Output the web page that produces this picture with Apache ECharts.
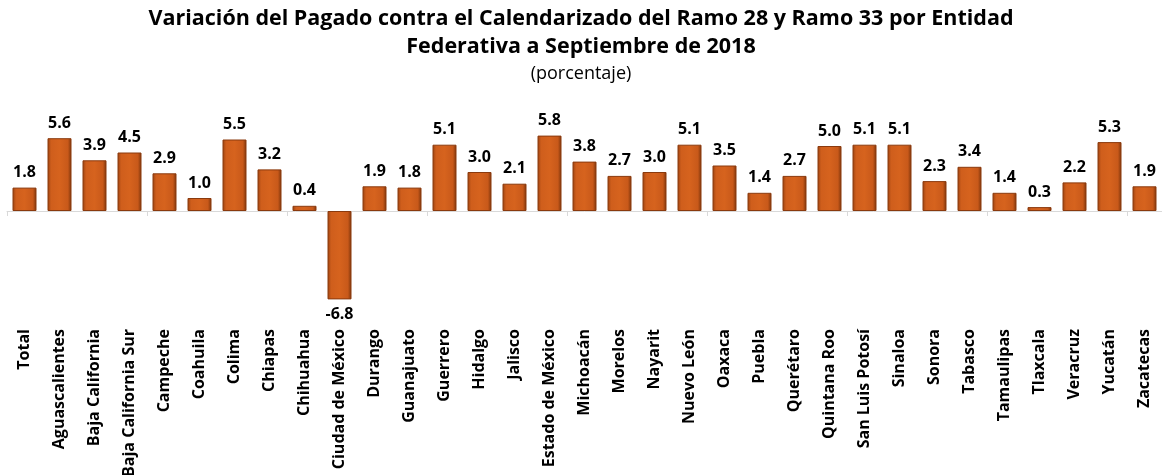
<!DOCTYPE html>
<html>
<head>
<meta charset="utf-8">
<script src="https://cdn.jsdelivr.net/npm/echarts@6/dist/echarts.min.js"></script>
<style>
  html, body { margin: 0; padding: 0; background: #fff; }
  #chart { width: 1162px; height: 475px; }
</style>
</head>
<body>
<div id="chart"></div>
<script>
const categories = [
  "Total", "Aguascalientes", "Baja California", "Baja California Sur", "Campeche",
  "Coahuila", "Colima", "Chiapas", "Chihuahua", "Ciudad de México", "Durango",
  "Guanajuato", "Guerrero", "Hidalgo", "Jalisco", "Estado de México", "Michoacán",
  "Morelos", "Nayarit", "Nuevo León", "Oaxaca", "Puebla", "Querétaro",
  "Quintana Roo", "San Luis Potosí", "Sinaloa", "Sonora", "Tabasco", "Tamaulipas",
  "Tlaxcala", "Veracruz", "Yucatán", "Zacatecas"
];
const values = [
  1.8, 5.6, 3.9, 4.5, 2.9, 1.0, 5.5, 3.2, 0.4, -6.8, 1.9,
  1.8, 5.1, 3.0, 2.1, 5.8, 3.8, 2.7, 3.0, 5.1, 3.5, 1.4, 2.7,
  5.0, 5.1, 5.1, 2.3, 3.4, 1.4, 0.3, 2.2, 5.3, 1.9
];

const fontFamily = "'Open Sans', sans-serif";

// barra tipo cilindro: bordes oscuros, centro naranja
const barColor = new echarts.graphic.LinearGradient(0, 0, 1, 0, [
  { offset: 0, color: "#9a4210" },
  { offset: 0.15, color: "#cf5e1c" },
  { offset: 0.5, color: "#d6631e" },
  { offset: 0.85, color: "#c8591a" },
  { offset: 1, color: "#7a330a" }
]);

const seriesData = values.map(v => ({
  value: v,
  label: { position: v < 0 ? "bottom" : "top" }
}));

const option = {
  backgroundColor: "#fff",
  title: [
    {
      text: "Variación del Pagado contra el Calendarizado del Ramo 28 y Ramo 33 por Entidad\nFederativa a Septiembre de 2018",
      left: "center",
      top: 0,
      textStyle: { fontFamily, fontSize: 21.5, fontWeight: "bold", color: "#000", lineHeight: 28 }
    },
    {
      text: "(porcentaje)",
      left: "center",
      top: 60,
      textStyle: { fontFamily, fontSize: 18, fontWeight: "normal", color: "#000" }
    }
  ],
  grid: { left: 7, right: 0, top: 120, bottom: 160, outerBoundsMode: "none", containLabel: false },
  xAxis: [
    {
      type: "category",
      data: categories,
      axisLine: { onZero: true, lineStyle: { color: "#d9d9d9", width: 1 } },
      axisTick: { show: true, length: 5, lineStyle: { color: "#d9d9d9" } },
      axisLabel: { show: false }
    },
    {
      type: "category",
      data: categories,
      position: "bottom",
      axisLine: { show: false },
      axisTick: { show: false },
      axisLabel: {
        rotate: 90,
        interval: 0,
        margin: 14,
        fontFamily,
        fontSize: 16,
        fontWeight: "bold",
        color: "#000"
      }
    }
  ],
  yAxis: {
    type: "value",
    min: -8,
    max: 7,
    show: false
  },
  series: [
    {
      type: "bar",
      xAxisIndex: 0,
      data: seriesData,
      barWidth: 24,
      itemStyle: { color: barColor, borderColor: "#8a3a0e", borderWidth: 1 },
      label: {
        show: true,
        formatter: p => p.value.toFixed(1),
        fontFamily,
        fontSize: 16,
        fontWeight: "bold",
        color: "#000",
        distance: 7
      }
    }
  ]
};

const chart = echarts.init(document.getElementById("chart"));
chart.setOption(option);
</script>
</body>
</html>
